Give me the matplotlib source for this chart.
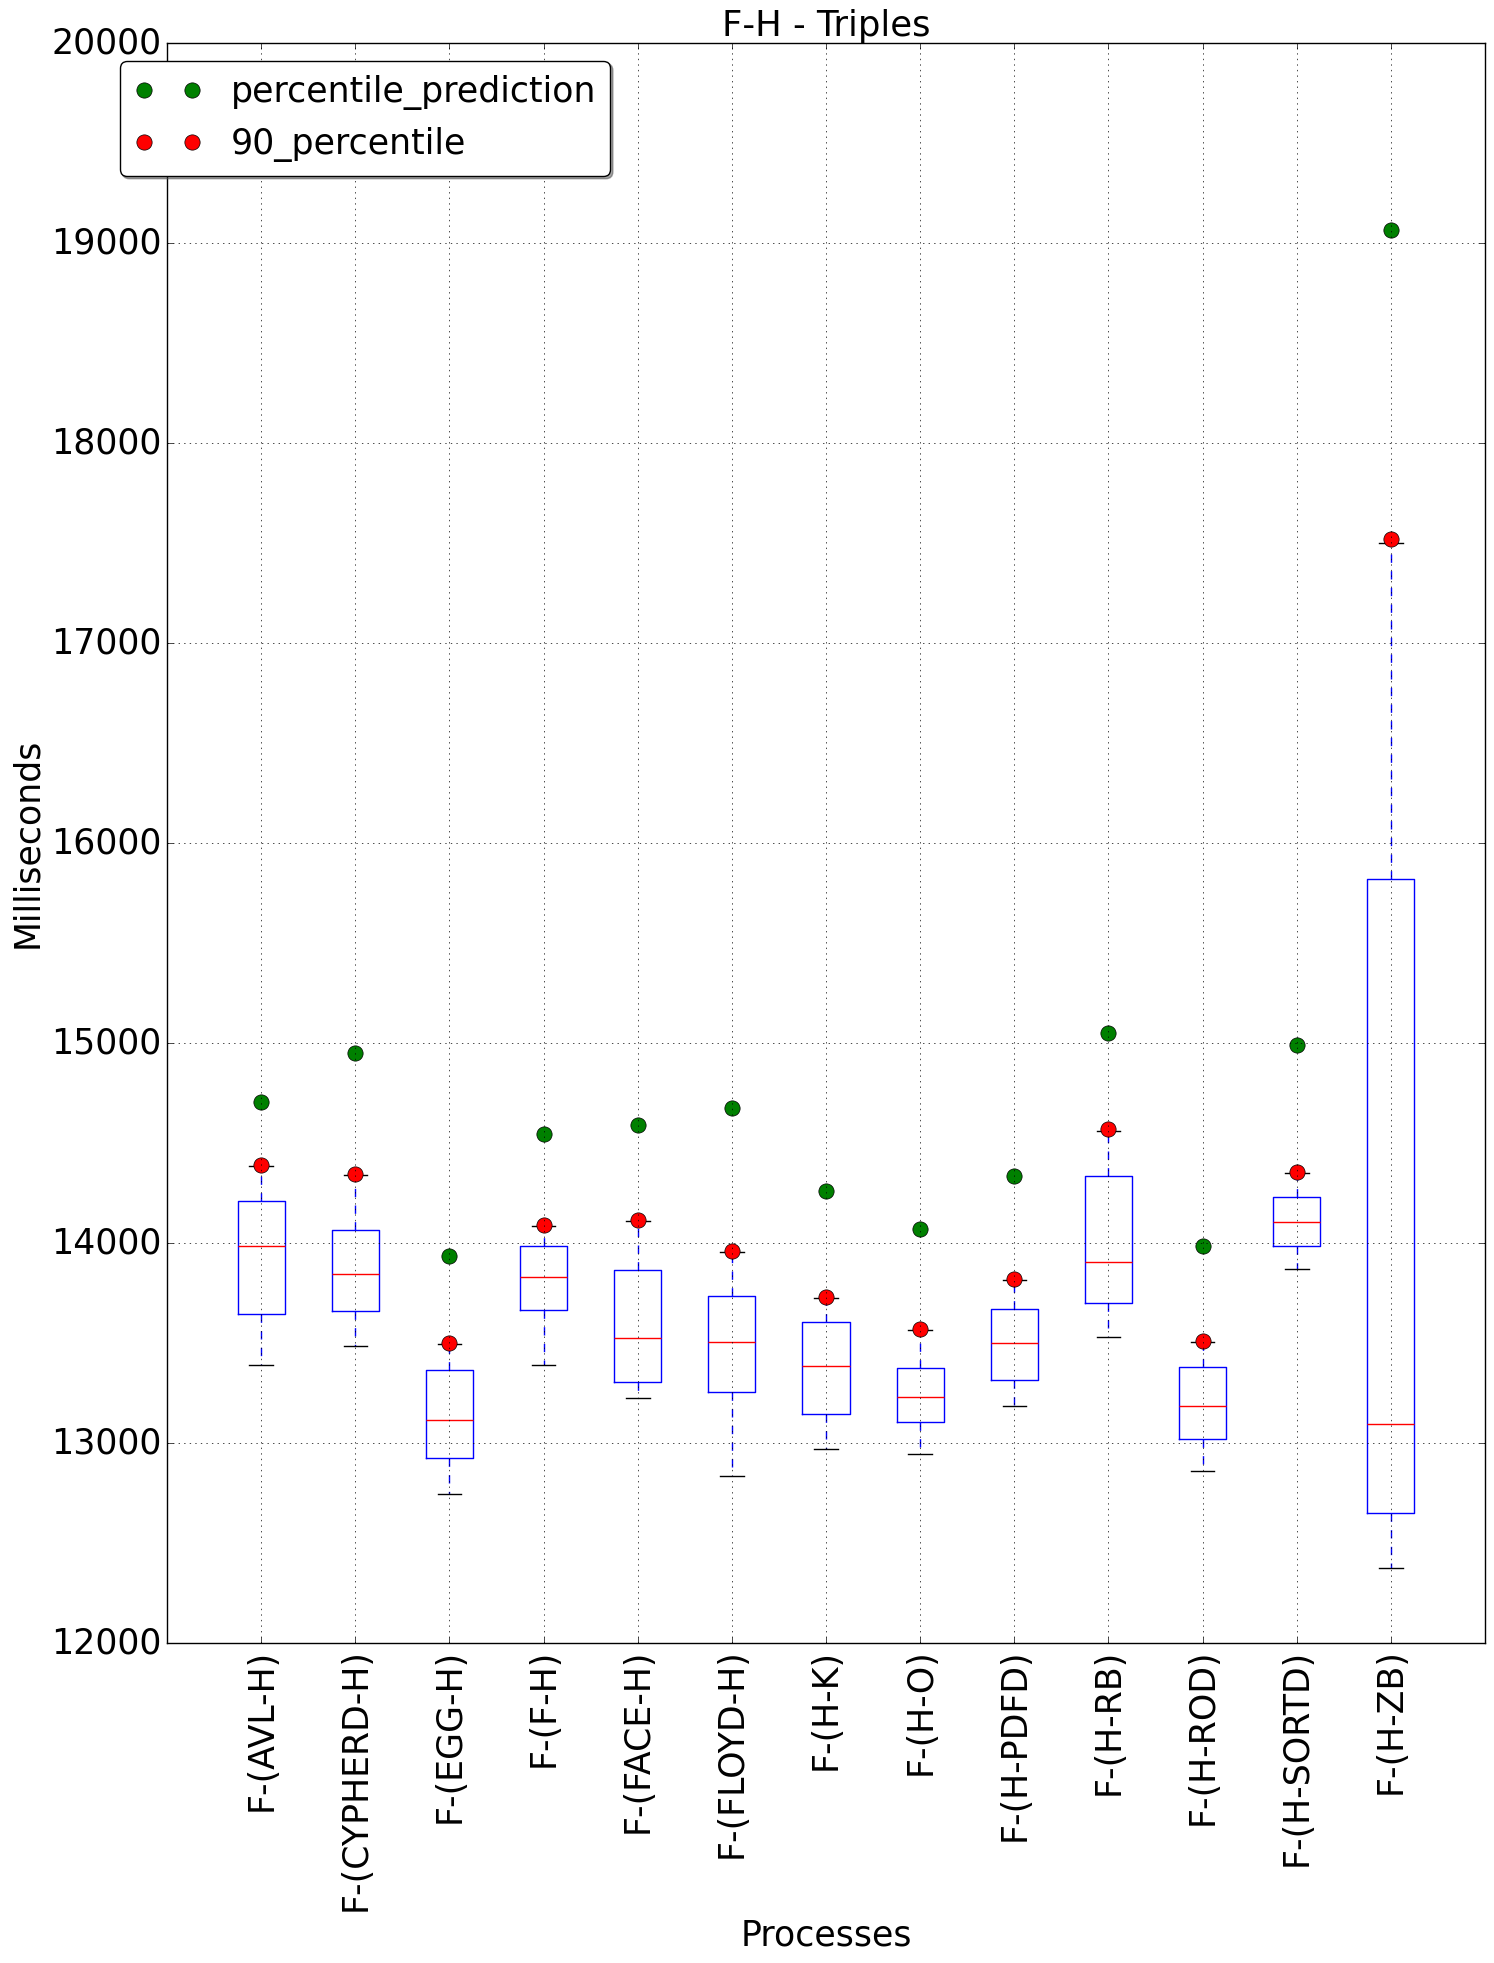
import matplotlib
matplotlib.use("Agg")
import matplotlib.pyplot as plt

plt.style.use('classic')

processes = ["F-(AVL-H)", "F-(CYPHERD-H)", "F-(EGG-H)", "F-(F-H)", "F-(FACE-H)",
             "F-(FLOYD-H)", "F-(H-K)", "F-(H-O)", "F-(H-PDFD)", "F-(H-RB)",
             "F-(H-ROD)", "F-(H-SORTD)", "F-(H-ZB)"]

whis_low = [13391, 13487, 12746, 13391, 13225, 12835, 12971, 12946, 13183, 13531, 12862, 13871, 12375]
q1 = [13645, 13661, 12926, 13665, 13306, 13254, 13145, 13105, 13315, 13699, 13020, 13987, 12650]
median = [13987, 13846, 13116, 13830, 13525, 13504, 13386, 13232, 13500, 13904, 13185, 14107, 13096]
q3 = [14210, 14065, 13366, 13984, 13864, 13734, 13605, 13375, 13672, 14335, 13379, 14230, 15819]
whis_high = [14385, 14340, 13495, 14085, 14110, 13955, 13727, 13566, 13815, 14562, 13503, 14350, 17500]

percentile_prediction = [14705, 14951, 13933, 14547, 14589, 14676, 14261, 14071, 14337, 15051, 13987, 14991, 19068]
percentile_90 = [14391, 14346, 13500, 14092, 14116, 13960, 13732, 13571, 13821, 14569, 13509, 14357, 17523]

stats = []
for i in range(len(processes)):
    stats.append({"med": median[i], "q1": q1[i], "q3": q3[i],
                  "whislo": whis_low[i], "whishi": whis_high[i], "fliers": []})

fs = 25

fig = plt.figure(figsize=(14.94, 19.63), dpi=100)
ax = fig.add_subplot(111)
fig.subplots_adjust(left=0.1118, right=0.994, top=0.978, bottom=0.163)

pos = list(range(1, len(processes) + 1))
ax.bxp(stats, positions=pos, widths=0.5, showfliers=False)

ax.plot(pos, percentile_prediction, 'o', color='green', markersize=11, label='percentile_prediction')
ax.plot(pos, percentile_90, 'o', color='red', markersize=11, label='90_percentile')

ax.set_xlim(0, 14)
ax.set_ylim(12000, 20000)
ax.set_xticks(pos)
ax.set_xticklabels(processes, rotation=90, fontsize=fs)
ax.tick_params(axis='y', labelsize=fs)
ax.grid(True)

ax.set_title("F-H - Triples", fontsize=fs + 0.5)
ax.set_xlabel("Processes", fontsize=fs)
ax.set_ylabel("Milliseconds", fontsize=fs)
ax.legend(loc='upper left', bbox_to_anchor=(-0.036, 0.989), borderaxespad=0,
          fontsize=fs, fancybox=True, shadow=True)

fig.savefig("out.png", dpi=100)
